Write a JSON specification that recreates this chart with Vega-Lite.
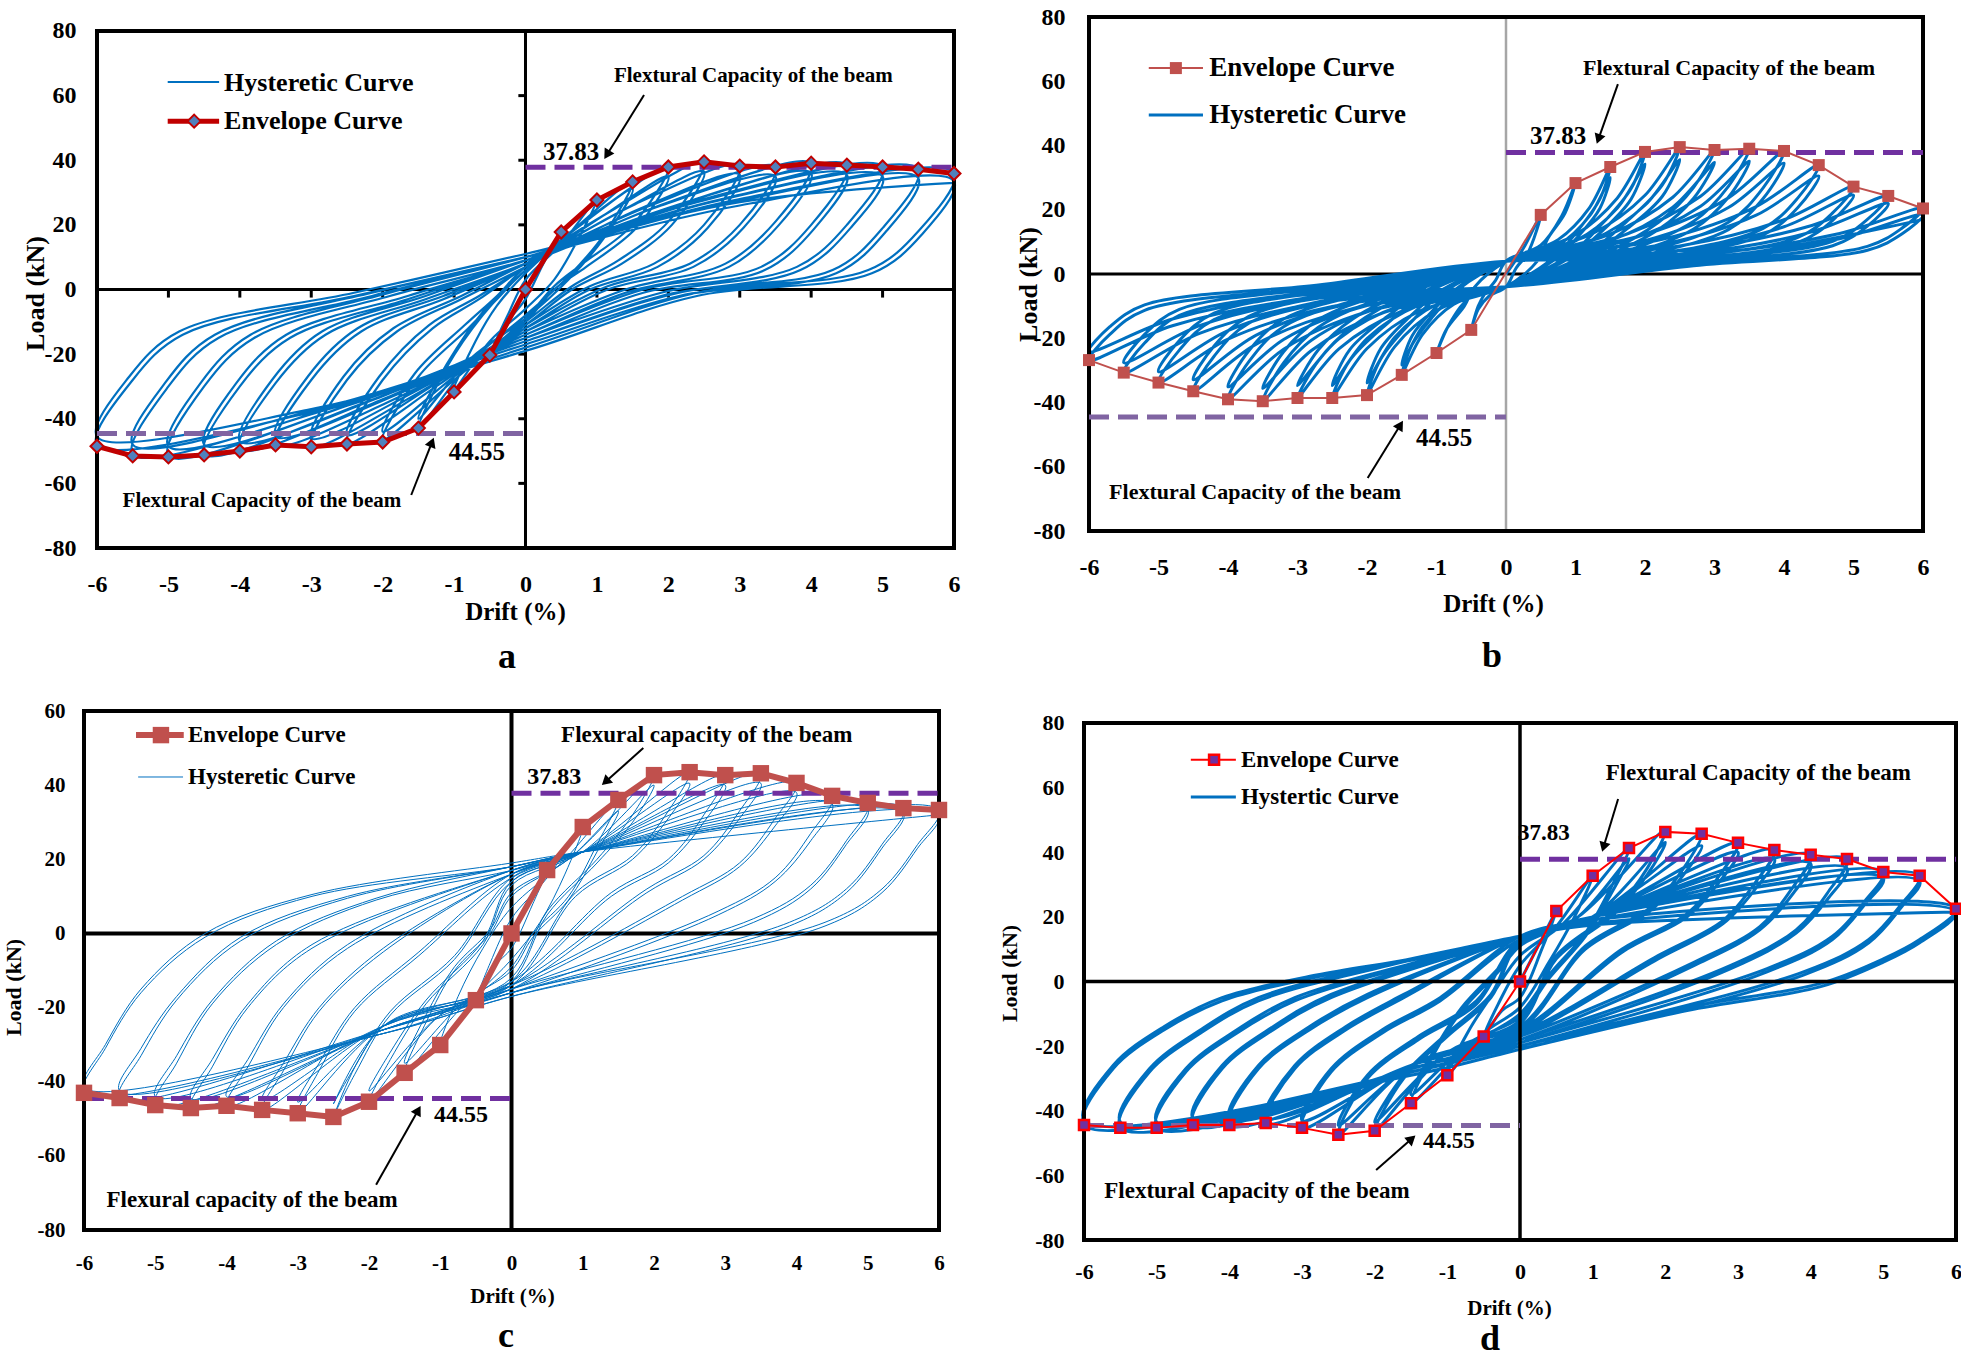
{
"$schema":"https://vega.github.io/schema/vega-lite/v6.json",
"background":"white",
"padding":{"left":2,"top":5,"right":0,"bottom":0},
"config":{
 "locale":{"number":{"decimal":".","thousands":",","grouping":[3],"currency":["$",""],"minus":"-"}},
 "view":{"stroke":null},
 "axis":{"domain":false,"ticks":false,"tickSize":0,"grid":false,"labelFont":"Liberation Serif","labelFontWeight":"bold","labelColor":"#000","titleFont":"Liberation Serif","titleFontWeight":"bold","titleColor":"#000","labelFlush":false,"labelOverlap":false,"titleBaseline":"middle"},
 "text":{"font":"Liberation Serif","fontWeight":"bold","color":"#000","baseline":"middle"},
 "title":{"font":"Liberation Serif","fontWeight":"bold","color":"#000","fontSize":36,"orient":"bottom","anchor":"middle","frame":"group"}
},
"columns":2,
"spacing":{"row":163,"column":130},
"bounds":"flush",
"datasets":{
 "f8":[{"x":-6,"x2":6,"y":80,"y2":80},{"x":-6,"x2":6,"y":-80,"y2":-80},{"x":-6,"x2":-6,"y":-80,"y2":80},{"x":6,"x2":6,"y":-80,"y2":80}],
 "f6":[{"x":-6,"x2":6,"y":60,"y2":60},{"x":-6,"x2":6,"y":-80,"y2":-80},{"x":-6,"x2":-6,"y":-80,"y2":60},{"x":6,"x2":6,"y":-80,"y2":60}],
 "z8":[{"x":-6,"x2":6,"y":0,"y2":0},{"x":0,"x2":0,"y":-80,"y2":80}],
 "z6":[{"x":-6,"x2":6,"y":0,"y2":0},{"x":0,"x2":0,"y":-80,"y2":60}],
 "zh":[{"x":-6,"x2":6,"y":0,"y2":0}],
 "zv8":[{"x":0,"x2":0,"y":-80,"y2":80}],
 "capT":[{"x":0,"x2":6,"y":37.83,"y2":37.83}],
 "capB":[{"x":-6,"x2":0,"y":-44.55,"y2":-44.55}],
 "ta":[{"x":-0.1,"x2":0,"y":60,"y2":60},{"x":-0.1,"x2":0,"y":40,"y2":40},{"x":-0.1,"x2":0,"y":20,"y2":20},{"x":-0.1,"x2":0,"y":-20,"y2":-20},{"x":-0.1,"x2":0,"y":-40,"y2":-40},{"x":-0.1,"x2":0,"y":-60,"y2":-60},
  {"x":-5,"x2":-5,"y":0,"y2":-2.5},{"x":-4,"x2":-4,"y":0,"y2":-2.5},{"x":-3,"x2":-3,"y":0,"y2":-2.5},{"x":-2,"x2":-2,"y":0,"y2":-2.5},{"x":-1,"x2":-1,"y":0,"y2":-2.5},{"x":1,"x2":1,"y":0,"y2":-2.5},{"x":2,"x2":2,"y":0,"y2":-2.5},{"x":3,"x2":3,"y":0,"y2":-2.5},{"x":4,"x2":4,"y":0,"y2":-2.5},{"x":5,"x2":5,"y":0,"y2":-2.5}],
 "ea":[{"x":-6,"y":-48.5},{"x":-5.5,"y":-51.5},{"x":-5,"y":-51.8},{"x":-4.5,"y":-51.2},{"x":-4,"y":-50},{"x":-3.5,"y":-48.1},{"x":-3,"y":-48.7},{"x":-2.5,"y":-47.8},{"x":-2,"y":-47.2},{"x":-1.5,"y":-42.9},{"x":-1,"y":-31.7},{"x":-0.5,"y":-20.3},{"x":0,"y":0},{"x":0.5,"y":17.8},{"x":1,"y":27.7},{"x":1.5,"y":33.3},{"x":2,"y":37.9},{"x":2.5,"y":39.5},{"x":3,"y":38.2},{"x":3.5,"y":37.9},{"x":4,"y":39.1},{"x":4.5,"y":38.5},{"x":5,"y":37.9},{"x":5.5,"y":37.2},{"x":6,"y":35.9}],
 "eb":[{"x":-6,"y":-26.8},{"x":-5.5,"y":-30.7},{"x":-5,"y":-33.8},{"x":-4.5,"y":-36.5},{"x":-4,"y":-39},{"x":-3.5,"y":-39.6},{"x":-3,"y":-38.6},{"x":-2.5,"y":-38.6},{"x":-2,"y":-37.7},{"x":-1.5,"y":-31.4},{"x":-1,"y":-24.6},{"x":-0.5,"y":-17.4},{"x":0.5,"y":18.4},{"x":1,"y":28.3},{"x":1.5,"y":33.3},{"x":2,"y":38},{"x":2.5,"y":39.5},{"x":3,"y":38.6},{"x":3.5,"y":39},{"x":4,"y":38.3},{"x":4.5,"y":33.9},{"x":5,"y":27.2},{"x":5.5,"y":24.3},{"x":6,"y":20.4}],
 "ec":[{"x":-6,"y":-43},{"x":-5.5,"y":-44.4},{"x":-5,"y":-46.3},{"x":-4.5,"y":-47.1},{"x":-4,"y":-46.5},{"x":-3.5,"y":-47.6},{"x":-3,"y":-48.5},{"x":-2.5,"y":-49.5},{"x":-2,"y":-45.4},{"x":-1.5,"y":-37.6},{"x":-1,"y":-30.1},{"x":-0.5,"y":-18},{"x":0,"y":0},{"x":0.5,"y":17.1},{"x":1,"y":28.7},{"x":1.5,"y":36},{"x":2,"y":42.7},{"x":2.5,"y":43.5},{"x":3,"y":42.7},{"x":3.5,"y":43.2},{"x":4,"y":40.6},{"x":4.5,"y":37.1},{"x":5,"y":35.2},{"x":5.5,"y":33.8},{"x":6,"y":33.3}],
 "ed":[{"x":-6,"y":-44.4},{"x":-5.5,"y":-45.3},{"x":-5,"y":-45.3},{"x":-4.5,"y":-44.4},{"x":-4,"y":-44.4},{"x":-3.5,"y":-43.8},{"x":-3,"y":-45.3},{"x":-2.5,"y":-47.4},{"x":-2,"y":-46.2},{"x":-1.5,"y":-37.7},{"x":-1,"y":-29},{"x":-0.5,"y":-17},{"x":0,"y":0},{"x":0.5,"y":21.8},{"x":1,"y":32.7},{"x":1.5,"y":41.3},{"x":2,"y":46.3},{"x":2.5,"y":45.7},{"x":3,"y":42.9},{"x":3.5,"y":40.7},{"x":4,"y":39.2},{"x":4.5,"y":37.9},{"x":5,"y":33.9},{"x":5.5,"y":32.7},{"x":6,"y":22.5}],
 "ha":[{"x":0,"y":0},{"x":0.25,"y":9},{"x":0.5,"y":18},{"x":0.25,"y":8},{"x":0,"y":-3},{"x":-0.25,"y":-10},{"x":-0.5,"y":-20},{"x":-0.25,"y":-8},{"x":0,"y":3},{"x":0.5,"y":14},
  {"x":1,"y":28},{"x":0.7,"y":14},{"x":0.4,"y":3},{"x":0,"y":-6},{"x":-0.5,"y":-16},{"x":-1,"y":-31},{"x":-0.7,"y":-16},{"x":-0.4,"y":-5},{"x":0,"y":5},{"x":0.75,"y":20},
  {"x":1.5,"y":33.5},{"x":1.1,"y":17},{"x":0.6,"y":4},{"x":0,"y":-8},{"x":-0.75,"y":-22},{"x":-1.5,"y":-43},{"x":-1.1,"y":-24},{"x":-0.6,"y":-8},{"x":0,"y":6},{"x":0.9,"y":22},
  {"x":1.5,"y":31},{"x":1.1,"y":16},{"x":0.6,"y":3},{"x":0,"y":-9},{"x":-0.75,"y":-21},{"x":-1.5,"y":-40},{"x":-1.1,"y":-23},{"x":-0.6,"y":-7},{"x":0,"y":6},{"x":1,"y":24},
  {"x":2,"y":38},{"x":1.5,"y":20},{"x":0.8,"y":8},{"x":0.4,"y":1},{"x":0,"y":-9},{"x":-1,"y":-28},{"x":-2,"y":-46.5},{"x":-1.5,"y":-27},{"x":-0.8,"y":-12},{"x":-0.4,"y":-3},{"x":0,"y":6},{"x":1.1,"y":23},
  {"x":2,"y":35},{"x":1.55,"y":19},{"x":0.85,"y":7},{"x":0.4,"y":0},{"x":0,"y":-10},{"x":-1,"y":-27},{"x":-2,"y":-44},{"x":-1.55,"y":-26},{"x":-0.85,"y":-11},{"x":-0.4,"y":-2},{"x":0,"y":7},{"x":1.25,"y":25},
  {"x":2.5,"y":39.5},{"x":2,"y":21},{"x":1.3,"y":9},{"x":0.65,"y":1},{"x":0,"y":-10},{"x":-1.25,"y":-30},{"x":-2.5,"y":-47.5},{"x":-2,"y":-28},{"x":-1.3,"y":-12},{"x":-0.65,"y":-3},{"x":0,"y":7},{"x":1.4,"y":25},
  {"x":2.5,"y":36.5},{"x":2.05,"y":20},{"x":1.35,"y":8},{"x":0.65,"y":0},{"x":0,"y":-11},{"x":-1.25,"y":-29},{"x":-2.5,"y":-45},{"x":-2.05,"y":-27},{"x":-1.35,"y":-11},{"x":-0.65,"y":-2},{"x":0,"y":7},{"x":1.5,"y":26},
  {"x":3,"y":38.5},{"x":2.5,"y":20},{"x":1.8,"y":8},{"x":0.9,"y":1},{"x":0,"y":-11},{"x":-1.5,"y":-32},{"x":-3,"y":-48.5},{"x":-2.5,"y":-28},{"x":-1.8,"y":-13},{"x":-0.9,"y":-3},{"x":0,"y":7},{"x":1.6,"y":25},
  {"x":3,"y":35.5},{"x":2.55,"y":19},{"x":1.85,"y":7},{"x":0.9,"y":0},{"x":0,"y":-12},{"x":-1.5,"y":-31},{"x":-3,"y":-46},{"x":-2.55,"y":-27},{"x":-1.85,"y":-12},{"x":-0.9,"y":-2},{"x":0,"y":8},{"x":1.75,"y":26},
  {"x":3.5,"y":38},{"x":3,"y":20},{"x":2.3,"y":8},{"x":1.15,"y":1},{"x":0,"y":-12},{"x":-1.75,"y":-33},{"x":-3.5,"y":-48},{"x":-3,"y":-28},{"x":-2.3,"y":-13},{"x":-1.15,"y":-3},{"x":0,"y":8},{"x":1.9,"y":26},
  {"x":3.5,"y":35},{"x":3.05,"y":19},{"x":2.35,"y":7},{"x":1.15,"y":0},{"x":0,"y":-13},{"x":-1.75,"y":-32},{"x":-3.5,"y":-45.5},{"x":-3.05,"y":-27},{"x":-2.35,"y":-12},{"x":-1.15,"y":-2},{"x":0,"y":8},{"x":2,"y":27},
  {"x":4,"y":39},{"x":3.5,"y":21},{"x":2.8,"y":8},{"x":1.4,"y":0},{"x":0,"y":-13},{"x":-2,"y":-34},{"x":-4,"y":-49.5},{"x":-3.5,"y":-29},{"x":-2.8,"y":-14},{"x":-1.4,"y":-3},{"x":0,"y":8},{"x":2.1,"y":26},
  {"x":4,"y":36},{"x":3.55,"y":20},{"x":2.85,"y":7},{"x":1.4,"y":-1},{"x":0,"y":-14},{"x":-2,"y":-33},{"x":-4,"y":-47},{"x":-3.55,"y":-28},{"x":-2.85,"y":-13},{"x":-1.4,"y":-2},{"x":0,"y":9},{"x":2.25,"y":27},
  {"x":4.5,"y":38.5},{"x":4,"y":20},{"x":3.3,"y":7},{"x":1.65,"y":0},{"x":0,"y":-14},{"x":-2.25,"y":-35},{"x":-4.5,"y":-51},{"x":-4,"y":-30},{"x":-3.3,"y":-15},{"x":-1.65,"y":-3},{"x":0,"y":9},{"x":2.4,"y":27},
  {"x":4.5,"y":35.5},{"x":4.05,"y":19},{"x":3.35,"y":6},{"x":1.65,"y":-1},{"x":0,"y":-15},{"x":-2.25,"y":-34},{"x":-4.5,"y":-48},{"x":-4.05,"y":-29},{"x":-3.35,"y":-14},{"x":-1.65,"y":-2},{"x":0,"y":9},{"x":2.5,"y":28},
  {"x":5,"y":38},{"x":4.5,"y":20},{"x":3.8,"y":7},{"x":1.9,"y":-1},{"x":0,"y":-15},{"x":-2.5,"y":-36},{"x":-5,"y":-51.5},{"x":-4.5,"y":-30},{"x":-3.8,"y":-15},{"x":-1.9,"y":-2},{"x":0,"y":9},{"x":2.6,"y":27},
  {"x":5,"y":35},{"x":4.55,"y":19},{"x":3.85,"y":6},{"x":1.9,"y":-2},{"x":0,"y":-16},{"x":-2.5,"y":-35},{"x":-5,"y":-48.5},{"x":-4.55,"y":-29},{"x":-3.85,"y":-14},{"x":-1.9,"y":-1},{"x":0,"y":10},{"x":2.75,"y":28},
  {"x":5.5,"y":37.2},{"x":5,"y":19},{"x":4.3,"y":6},{"x":2.15,"y":-1},{"x":0,"y":-16},{"x":-2.75,"y":-37},{"x":-5.5,"y":-51},{"x":-5,"y":-30},{"x":-4.3,"y":-15},{"x":-2.15,"y":-2},{"x":0,"y":10},{"x":2.9,"y":27},
  {"x":5.5,"y":34.5},{"x":5.05,"y":18},{"x":4.35,"y":5},{"x":2.15,"y":-2},{"x":0,"y":-17},{"x":-2.75,"y":-36},{"x":-5.5,"y":-48},{"x":-5.05,"y":-29},{"x":-4.35,"y":-14},{"x":-2.15,"y":-1},{"x":0,"y":10},{"x":3,"y":28},
  {"x":6,"y":36},{"x":5.5,"y":18},{"x":4.8,"y":6},{"x":2.4,"y":-1},{"x":0,"y":-18},{"x":-3,"y":-38},{"x":-6,"y":-48},{"x":-5.5,"y":-28},{"x":-4.8,"y":-14},{"x":-2.4,"y":-2},{"x":0,"y":10},{"x":3,"y":26},
  {"x":6,"y":33.5},{"x":5.55,"y":17},{"x":4.85,"y":5},{"x":2.4,"y":-2},{"x":0,"y":-19},{"x":-3,"y":-37},{"x":-6,"y":-45.5},{"x":-5.55,"y":-27},{"x":-4.85,"y":-13},{"x":-2.4,"y":-1},{"x":0,"y":11},{"x":3,"y":27},{"x":6,"y":33}],
 "hb":[{"x":0,"y":0},{"x":0.25,"y":8},{"x":0.5,"y":18.4},{"x":0.4,"y":11},{"x":0.3,"y":6},{"x":0.15,"y":2},{"x":0,"y":-4},{"x":-0.25,"y":-7},{"x":-0.4,"y":-11},{"x":-0.5,"y":-17.4},{"x":-0.4,"y":-10},{"x":-0.3,"y":-6},{"x":-0.15,"y":-2},{"x":0,"y":4},
  {"x":0.5,"y":9},{"x":0.8,"y":18},{"x":1,"y":28.3},{"x":0.85,"y":19},{"x":0.6,"y":11},{"x":0.45,"y":4},{"x":0,"y":-4},{"x":-0.5,"y":-7},{"x":-0.8,"y":-15},{"x":-1,"y":-24.6},{"x":-0.85,"y":-17},{"x":-0.6,"y":-10},{"x":-0.45,"y":-4},{"x":0,"y":4},
  {"x":0.75,"y":10.7},{"x":1.2,"y":20.6},{"x":1.5,"y":33.3},{"x":1.35,"y":23.3},{"x":1.05,"y":14},{"x":0.68,"y":5},{"x":0,"y":-4},{"x":-0.75,"y":-9.4},{"x":-1.2,"y":-18.8},{"x":-1.5,"y":-31.4},{"x":-1.35,"y":-22},{"x":-1.05,"y":-13.2},{"x":-0.68,"y":-4.7},{"x":0,"y":4},
  {"x":0.75,"y":9},{"x":1.2,"y":18},{"x":1.5,"y":30},{"x":1.35,"y":20.4},{"x":1.05,"y":12},{"x":0.68,"y":4.2},{"x":0,"y":-4},{"x":-0.75,"y":-7.9},{"x":-1.2,"y":-16.4},{"x":-1.5,"y":-28.3},{"x":-1.35,"y":-19.2},{"x":-1.05,"y":-11.3},{"x":-0.68,"y":-4},{"x":0,"y":4},
  {"x":1,"y":12.2},{"x":1.6,"y":23.6},{"x":2,"y":38},{"x":1.8,"y":26.6},{"x":1.4,"y":16},{"x":0.9,"y":5.7},{"x":0,"y":-4},{"x":-1,"y":-11.3},{"x":-1.6,"y":-22.6},{"x":-2,"y":-37.7},{"x":-1.8,"y":-26.4},{"x":-1.4,"y":-15.8},{"x":-0.9,"y":-5.7},{"x":0,"y":4},
  {"x":1,"y":10.3},{"x":1.6,"y":20.5},{"x":2,"y":34.2},{"x":1.8,"y":23.3},{"x":1.4,"y":13.7},{"x":0.9,"y":4.8},{"x":0,"y":-4},{"x":-1,"y":-9.5},{"x":-1.6,"y":-19.7},{"x":-2,"y":-33.9},{"x":-1.8,"y":-23.1},{"x":-1.4,"y":-13.6},{"x":-0.9,"y":-4.7},{"x":0,"y":4},
  {"x":1.25,"y":12.6},{"x":2,"y":24.5},{"x":2.5,"y":39.5},{"x":2.25,"y":27.7},{"x":1.75,"y":16.6},{"x":1.13,"y":5.9},{"x":0,"y":-4},{"x":-1.25,"y":-11.6},{"x":-2,"y":-23.2},{"x":-2.5,"y":-38.6},{"x":-2.25,"y":-27},{"x":-1.75,"y":-16.2},{"x":-1.13,"y":-5.8},{"x":0,"y":4},
  {"x":1.25,"y":10.7},{"x":2,"y":21.4},{"x":2.5,"y":35.6},{"x":2.25,"y":24.2},{"x":1.75,"y":14.2},{"x":1.13,"y":5},{"x":0,"y":-4},{"x":-1.25,"y":-9.7},{"x":-2,"y":-20.1},{"x":-2.5,"y":-34.7},{"x":-2.25,"y":-23.6},{"x":-1.75,"y":-13.9},{"x":-1.13,"y":-4.9},{"x":0,"y":4},
  {"x":1.5,"y":12.4},{"x":2.4,"y":23.9},{"x":3,"y":38.6},{"x":2.7,"y":27},{"x":2.2,"y":16.2},{"x":1.35,"y":5.8},{"x":0,"y":-4},{"x":-1.5,"y":-11.6},{"x":-2.4,"y":-23.2},{"x":-3,"y":-38.6},{"x":-2.7,"y":-27},{"x":-2.2,"y":-16.2},{"x":-1.35,"y":-5.8},{"x":0,"y":4},
  {"x":1.5,"y":10.4},{"x":2.4,"y":20.8},{"x":3,"y":34.7},{"x":2.7,"y":23.6},{"x":2.2,"y":13.9},{"x":1.35,"y":4.9},{"x":0,"y":-4},{"x":-1.5,"y":-9.7},{"x":-2.4,"y":-20.1},{"x":-3,"y":-34.7},{"x":-2.7,"y":-23.6},{"x":-2.2,"y":-13.9},{"x":-1.35,"y":-4.9},{"x":0,"y":4},
  {"x":1.75,"y":12.5},{"x":2.8,"y":24.2},{"x":3.5,"y":39},{"x":3.2,"y":27.3},{"x":2.7,"y":16.4},{"x":1.58,"y":5.9},{"x":0,"y":-4},{"x":-1.75,"y":-11.9},{"x":-2.8,"y":-23.8},{"x":-3.5,"y":-39.6},{"x":-3.2,"y":-27.7},{"x":-2.7,"y":-16.6},{"x":-1.58,"y":-5.9},{"x":0,"y":4},
  {"x":1.75,"y":10.5},{"x":2.8,"y":21.1},{"x":3.5,"y":35.1},{"x":3.2,"y":23.9},{"x":2.7,"y":14},{"x":1.58,"y":4.9},{"x":0,"y":-4},{"x":-1.75,"y":-10},{"x":-2.8,"y":-20.6},{"x":-3.5,"y":-35.6},{"x":-3.2,"y":-24.2},{"x":-2.7,"y":-14.2},{"x":-1.58,"y":-5},{"x":0,"y":4},
  {"x":2,"y":12.3},{"x":3.2,"y":23.7},{"x":4,"y":38.3},{"x":3.7,"y":26.8},{"x":3.2,"y":16.1},{"x":1.8,"y":5.7},{"x":0,"y":-4},{"x":-2,"y":-11.7},{"x":-3.2,"y":-23.4},{"x":-4,"y":-39},{"x":-3.7,"y":-27.3},{"x":-3.2,"y":-16.4},{"x":-1.8,"y":-5.9},{"x":0,"y":4},
  {"x":2,"y":10.4},{"x":3.2,"y":20.7},{"x":4,"y":34.5},{"x":3.7,"y":23.5},{"x":3.2,"y":13.8},{"x":1.8,"y":4.8},{"x":0,"y":-4},{"x":-2,"y":-9.8},{"x":-3.2,"y":-20.4},{"x":-4,"y":-35.1},{"x":-3.7,"y":-23.9},{"x":-3.2,"y":-14},{"x":-1.8,"y":-4.9},{"x":0,"y":4},
  {"x":2.25,"y":10.8},{"x":3.6,"y":21},{"x":4.5,"y":33.9},{"x":4.2,"y":23.7},{"x":3.7,"y":14.2},{"x":2.03,"y":5.1},{"x":0,"y":-4},{"x":-2.25,"y":-11},{"x":-3.6,"y":-21.9},{"x":-4.5,"y":-36.5},{"x":-4.2,"y":-25.6},{"x":-3.7,"y":-15.3},{"x":-2.03,"y":-5.5},{"x":0,"y":4},
  {"x":2.25,"y":9.2},{"x":3.6,"y":18.3},{"x":4.5,"y":30.5},{"x":4.2,"y":20.7},{"x":3.7,"y":12.2},{"x":2.03,"y":4.3},{"x":0,"y":-4},{"x":-2.25,"y":-9.2},{"x":-3.6,"y":-19.1},{"x":-4.5,"y":-32.9},{"x":-4.2,"y":-22.4},{"x":-3.7,"y":-13.2},{"x":-2.03,"y":-4.6},{"x":0,"y":4},
  {"x":2.5,"y":8.7},{"x":4,"y":16.9},{"x":5,"y":27.2},{"x":4.7,"y":19},{"x":4.2,"y":11.4},{"x":2.25,"y":4.1},{"x":0,"y":-4},{"x":-2.5,"y":-10.1},{"x":-4,"y":-20.3},{"x":-5,"y":-33.8},{"x":-4.7,"y":-23.7},{"x":-4.2,"y":-14.2},{"x":-2.25,"y":-5.1},{"x":0,"y":4},
  {"x":2.5,"y":7.4},{"x":4,"y":14.7},{"x":5,"y":24.5},{"x":4.7,"y":16.7},{"x":4.2,"y":9.8},{"x":2.25,"y":3.4},{"x":0,"y":-4},{"x":-2.5,"y":-8.5},{"x":-4,"y":-17.6},{"x":-5,"y":-30.4},{"x":-4.7,"y":-20.7},{"x":-4.2,"y":-12.2},{"x":-2.25,"y":-4.3},{"x":0,"y":4},
  {"x":2.75,"y":7.8},{"x":4.4,"y":15.1},{"x":5.5,"y":24.3},{"x":5.2,"y":17},{"x":4.7,"y":10.2},{"x":2.48,"y":3.6},{"x":0,"y":-4},{"x":-2.75,"y":-9.2},{"x":-4.4,"y":-18.4},{"x":-5.5,"y":-30.7},{"x":-5.2,"y":-21.5},{"x":-4.7,"y":-12.9},{"x":-2.48,"y":-4.6},{"x":0,"y":4},
  {"x":2.75,"y":6.6},{"x":4.4,"y":13.1},{"x":5.5,"y":21.9},{"x":5.2,"y":14.9},{"x":4.7,"y":8.8},{"x":2.48,"y":3.1},{"x":0,"y":-4},{"x":-2.75,"y":-7.7},{"x":-4.4,"y":-16},{"x":-5.5,"y":-27.6},{"x":-5.2,"y":-18.8},{"x":-4.7,"y":-11},{"x":-2.48,"y":-3.9},{"x":0,"y":4},
  {"x":3,"y":6.5},{"x":4.8,"y":12.6},{"x":6,"y":20.4},{"x":5.7,"y":14.3},{"x":5.2,"y":8.6},{"x":2.7,"y":3.1},{"x":0,"y":-4},{"x":-3,"y":-8},{"x":-4.8,"y":-16.1},{"x":-6,"y":-26.8},{"x":-5.7,"y":-18.8},{"x":-5.2,"y":-11.3},{"x":-2.7,"y":-4},{"x":0,"y":4},
  {"x":3,"y":5.5},{"x":4.8,"y":11},{"x":6,"y":18.4},{"x":5.7,"y":12.5},{"x":5.2,"y":7.4},{"x":2.7,"y":2.6},{"x":0,"y":-4},{"x":-3,"y":-6.7},{"x":-4.8,"y":-14},{"x":-6,"y":-24.1},{"x":-5.7,"y":-16.4},{"x":-5.2,"y":-9.6},{"x":-2.7,"y":-3.4},{"x":0,"y":4},{"x":3,"y":5},{"x":6,"y":17}],
 "hc":[{"x":0,"y":0},{"x":0.25,"y":9},{"x":0.5,"y":17.1},{"x":0.3,"y":8},{"x":0,"y":-4},{"x":-0.25,"y":-9},{"x":-0.5,"y":-18},{"x":-0.3,"y":-8},{"x":0,"y":4},{"x":0.5,"y":15},
  {"x":1,"y":28.7},{"x":0.75,"y":16},{"x":0.4,"y":3},{"x":0,"y":-7},{"x":-0.5,"y":-17},{"x":-1,"y":-30.1},{"x":-0.75,"y":-17},{"x":-0.4,"y":-4},{"x":0,"y":7},{"x":0.7,"y":19},
  {"x":1.5,"y":36},{"x":1.2,"y":24},{"x":0.8,"y":10},{"x":0.3,"y":0},{"x":0,"y":-9},{"x":-0.7,"y":-20},{"x":-1.5,"y":-37.6},{"x":-1.2,"y":-24},{"x":-0.8,"y":-10},{"x":-0.3,"y":0},{"x":0,"y":10},{"x":0.8,"y":20},
  {"x":1.5,"y":33},{"x":1.2,"y":22},{"x":0.8,"y":9},{"x":0.3,"y":-1},{"x":0,"y":-10},{"x":-0.7,"y":-19},{"x":-1.5,"y":-35},{"x":-1.2,"y":-22},{"x":-0.8,"y":-9},{"x":-0.3,"y":1},{"x":0,"y":11},{"x":0.8,"y":20},
  {"x":2,"y":42.7},{"x":1.7,"y":32},{"x":1.2,"y":20},{"x":0.5,"y":6},{"x":0,"y":-12},{"x":-1,"y":-22},{"x":-2,"y":-45.4},{"x":-1.7,"y":-34},{"x":-1.2,"y":-19},{"x":-0.4,"y":-3},{"x":0,"y":13},{"x":1,"y":22},
  {"x":2,"y":40},{"x":1.7,"y":30},{"x":1.2,"y":19},{"x":0.5,"y":5},{"x":0,"y":-13},{"x":-1,"y":-22},{"x":-2,"y":-42.5},{"x":-1.7,"y":-32},{"x":-1.2,"y":-18},{"x":-0.4,"y":-2},{"x":0,"y":14},{"x":1,"y":22},
  {"x":2.5,"y":43.5},{"x":2.2,"y":33},{"x":1.7,"y":21},{"x":0.9,"y":11},{"x":0,"y":-13},{"x":-1.8,"y":-25},{"x":-2.5,"y":-49.5},{"x":-2.2,"y":-38},{"x":-1.7,"y":-22},{"x":-0.8,"y":-7},{"x":0,"y":14},{"x":1,"y":22},
  {"x":2.5,"y":40.5},{"x":2.2,"y":31},{"x":1.7,"y":20},{"x":0.9,"y":10},{"x":0,"y":-14},{"x":-1.8,"y":-25},{"x":-2.5,"y":-46},{"x":-2.2,"y":-36},{"x":-1.7,"y":-21},{"x":-0.8,"y":-6},{"x":0,"y":15},{"x":1,"y":22},
  {"x":3,"y":42.7},{"x":2.7,"y":32},{"x":2.2,"y":20},{"x":1.4,"y":11},{"x":0,"y":-13},{"x":-1.8,"y":-25},{"x":-3,"y":-48.5},{"x":-2.7,"y":-37},{"x":-2.2,"y":-21},{"x":-1.3,"y":-6},{"x":0,"y":15},{"x":1,"y":22},
  {"x":3,"y":40},{"x":2.7,"y":30},{"x":2.2,"y":19},{"x":1.4,"y":10},{"x":0,"y":-14},{"x":-1.8,"y":-25},{"x":-3,"y":-45.5},{"x":-2.7,"y":-35},{"x":-2.2,"y":-20},{"x":-1.3,"y":-5},{"x":0,"y":16},{"x":1,"y":22},
  {"x":3.5,"y":43.2},{"x":3.2,"y":33},{"x":2.7,"y":21},{"x":1.9,"y":12},{"x":0,"y":-14},{"x":-1.8,"y":-25},{"x":-3.5,"y":-47.6},{"x":-3.2,"y":-37},{"x":-2.7,"y":-21},{"x":-1.8,"y":-5},{"x":0,"y":16},{"x":1,"y":22},
  {"x":3.5,"y":40.5},{"x":3.2,"y":31},{"x":2.7,"y":20},{"x":1.9,"y":11},{"x":0,"y":-15},{"x":-1.8,"y":-25},{"x":-3.5,"y":-45},{"x":-3.2,"y":-35},{"x":-2.7,"y":-20},{"x":-1.8,"y":-4},{"x":0,"y":16},{"x":1,"y":22},
  {"x":4,"y":40.6},{"x":3.7,"y":31},{"x":3.2,"y":19},{"x":2.4,"y":10},{"x":0,"y":-14},{"x":-1.8,"y":-25},{"x":-4,"y":-46.5},{"x":-3.7,"y":-36},{"x":-3.2,"y":-20},{"x":-2.3,"y":-4},{"x":0,"y":16},{"x":1,"y":22},
  {"x":4,"y":38},{"x":3.7,"y":29},{"x":3.2,"y":18},{"x":2.4,"y":9},{"x":0,"y":-15},{"x":-1.8,"y":-26},{"x":-4,"y":-44},{"x":-3.7,"y":-34},{"x":-3.2,"y":-19},{"x":-2.3,"y":-3},{"x":0,"y":17},{"x":1,"y":22},
  {"x":4.5,"y":37.1},{"x":4.2,"y":27},{"x":3.7,"y":15},{"x":2.9,"y":6},{"x":0,"y":-15},{"x":-1.8,"y":-26},{"x":-4.5,"y":-47.1},{"x":-4.2,"y":-36},{"x":-3.7,"y":-20},{"x":-2.8,"y":-4},{"x":0,"y":17},{"x":1,"y":22},
  {"x":4.5,"y":35},{"x":4.2,"y":25},{"x":3.7,"y":14},{"x":2.9,"y":5},{"x":0,"y":-16},{"x":-1.8,"y":-26},{"x":-4.5,"y":-44.5},{"x":-4.2,"y":-34},{"x":-3.7,"y":-19},{"x":-2.8,"y":-3},{"x":0,"y":17},{"x":1,"y":22},
  {"x":5,"y":35.2},{"x":4.7,"y":25},{"x":4.2,"y":13},{"x":3.4,"y":4},{"x":0,"y":-15},{"x":-1.8,"y":-26},{"x":-5,"y":-46.3},{"x":-4.7,"y":-35},{"x":-4.2,"y":-19},{"x":-3.3,"y":-3},{"x":-1.9,"y":9},{"x":0,"y":17},{"x":1,"y":22},
  {"x":5,"y":33.5},{"x":4.7,"y":24},{"x":4.2,"y":12},{"x":3.4,"y":3},{"x":0,"y":-16},{"x":-1.8,"y":-26},{"x":-5,"y":-44},{"x":-4.7,"y":-33},{"x":-4.2,"y":-18},{"x":-3.3,"y":-2},{"x":-1.9,"y":9.5},{"x":0,"y":18},{"x":1,"y":22},
  {"x":5.5,"y":33.8},{"x":5.2,"y":24},{"x":4.7,"y":12},{"x":3.9,"y":3},{"x":0,"y":-16},{"x":-1.8,"y":-26},{"x":-5.5,"y":-44.4},{"x":-5.2,"y":-33},{"x":-4.7,"y":-18},{"x":-3.8,"y":-2},{"x":-2.3,"y":9.5},{"x":0,"y":18},{"x":1,"y":22},
  {"x":5.5,"y":32.5},{"x":5.2,"y":23},{"x":4.7,"y":11},{"x":3.9,"y":2},{"x":0,"y":-17},{"x":-1.8,"y":-27},{"x":-5.5,"y":-42.5},{"x":-5.2,"y":-31},{"x":-4.7,"y":-17},{"x":-3.8,"y":-1},{"x":-2.3,"y":10},{"x":0,"y":18},{"x":1,"y":22},
  {"x":6,"y":33.3},{"x":5.7,"y":24},{"x":5.2,"y":12},{"x":4.4,"y":3},{"x":0,"y":-16},{"x":-1.8,"y":-27},{"x":-6,"y":-43},{"x":-5.7,"y":-31},{"x":-5.2,"y":-16},{"x":-4.3,"y":-1},{"x":-2.8,"y":10},{"x":0,"y":18},{"x":1,"y":22},
  {"x":6,"y":32},{"x":5.7,"y":23},{"x":5.2,"y":11},{"x":4.4,"y":2},{"x":0,"y":-17},{"x":-1.8,"y":-27},{"x":-6,"y":-41.5},{"x":-5.7,"y":-30},{"x":-5.2,"y":-15},{"x":-4.3,"y":0},{"x":-2.8,"y":10.5},{"x":0,"y":19},{"x":1,"y":22},{"x":6,"y":32}],
 "hd":[{"x":0,"y":0},{"x":0.25,"y":11},{"x":0.5,"y":21.8},{"x":0.3,"y":10},{"x":0,"y":-5},{"x":-0.25,"y":-9},{"x":-0.5,"y":-17},{"x":-0.3,"y":-7},{"x":0,"y":5},{"x":0.5,"y":17},
  {"x":1,"y":32.7},{"x":0.75,"y":20},{"x":0.4,"y":6},{"x":0,"y":-8},{"x":-0.5,"y":-16},{"x":-1,"y":-29},{"x":-0.7,"y":-15},{"x":-0.35,"y":-3},{"x":0,"y":8},{"x":0.6,"y":18},
  {"x":1.5,"y":41.3},{"x":1.25,"y":29},{"x":0.9,"y":15},{"x":0.4,"y":2},{"x":0,"y":-10},{"x":-0.7,"y":-20},{"x":-1.5,"y":-37.7},{"x":-1.2,"y":-23},{"x":-0.8,"y":-9},{"x":-0.3,"y":3},{"x":0,"y":11},{"x":0.8,"y":20},
  {"x":1.5,"y":38},{"x":1.25,"y":27},{"x":0.9,"y":14},{"x":0.4,"y":1},{"x":0,"y":-11},{"x":-0.7,"y":-19},{"x":-1.5,"y":-35},{"x":-1.2,"y":-22},{"x":-0.8,"y":-8},{"x":-0.3,"y":4},{"x":0,"y":12},{"x":0.8,"y":20},
  {"x":2,"y":47},{"x":1.75,"y":35},{"x":1.3,"y":22},{"x":0.5,"y":8},{"x":0,"y":-12},{"x":-1,"y":-22},{"x":-2,"y":-46.2},{"x":-1.6,"y":-30},{"x":-1,"y":-17},{"x":-0.4,"y":-5},{"x":0,"y":12},{"x":1,"y":20},
  {"x":2,"y":43},{"x":1.75,"y":33},{"x":1.3,"y":21},{"x":0.5,"y":7},{"x":0,"y":-13},{"x":-1,"y":-22},{"x":-2,"y":-43.5},{"x":-1.6,"y":-29},{"x":-1,"y":-16},{"x":-0.4,"y":-4},{"x":0,"y":13},{"x":1,"y":20},
  {"x":2.5,"y":45.7},{"x":2.25,"y":35},{"x":1.8,"y":23},{"x":0.9,"y":11},{"x":0,"y":-14},{"x":-1.5,"y":-26},{"x":-2.5,"y":-47.4},{"x":-2.1,"y":-30},{"x":-1.4,"y":-18},{"x":-0.6,"y":-7},{"x":0,"y":13},{"x":1,"y":20},
  {"x":2.5,"y":42},{"x":2.25,"y":33},{"x":1.8,"y":22},{"x":0.9,"y":10},{"x":0,"y":-15},{"x":-1.5,"y":-26},{"x":-2.5,"y":-44.5},{"x":-2.1,"y":-29},{"x":-1.4,"y":-17},{"x":-0.6,"y":-6},{"x":0,"y":13},{"x":1,"y":20},
  {"x":3,"y":42.9},{"x":2.75,"y":33},{"x":2.3,"y":21},{"x":1.4,"y":10},{"x":0,"y":-15},{"x":-1.5,"y":-26},{"x":-3,"y":-45.3},{"x":-2.6,"y":-28},{"x":-1.9,"y":-16},{"x":-1.1,"y":-6},{"x":0,"y":13},{"x":1,"y":20},
  {"x":3,"y":40},{"x":2.75,"y":31},{"x":2.3,"y":20},{"x":1.4,"y":9},{"x":0,"y":-16},{"x":-1.5,"y":-26},{"x":-3,"y":-43},{"x":-2.6,"y":-27},{"x":-1.9,"y":-15},{"x":-1.1,"y":-5},{"x":0,"y":14},{"x":1,"y":20},
  {"x":3.5,"y":40.7},{"x":3.25,"y":31},{"x":2.8,"y":19},{"x":1.9,"y":8},{"x":0,"y":-16},{"x":-1.5,"y":-26},{"x":-3.5,"y":-43.8},{"x":-3.1,"y":-27},{"x":-2.4,"y":-15},{"x":-1.6,"y":-5},{"x":0,"y":14},{"x":1,"y":20},
  {"x":3.5,"y":38},{"x":3.25,"y":29},{"x":2.8,"y":18},{"x":1.9,"y":7},{"x":0,"y":-17},{"x":-1.5,"y":-27},{"x":-3.5,"y":-42},{"x":-3.1,"y":-26},{"x":-2.4,"y":-14},{"x":-1.6,"y":-4},{"x":0,"y":14},{"x":1,"y":20},
  {"x":4,"y":39.2},{"x":3.75,"y":29},{"x":3.3,"y":17},{"x":2.4,"y":6},{"x":0,"y":-17},{"x":-1.5,"y":-27},{"x":-4,"y":-44.4},{"x":-3.6,"y":-27},{"x":-2.9,"y":-15},{"x":-2.1,"y":-5},{"x":0,"y":14},{"x":1,"y":20},
  {"x":4,"y":36.5},{"x":3.75,"y":27},{"x":3.3,"y":16},{"x":2.4,"y":5},{"x":0,"y":-18},{"x":-1.5,"y":-27},{"x":-4,"y":-42.5},{"x":-3.6,"y":-26},{"x":-2.9,"y":-14},{"x":-2.1,"y":-4},{"x":0,"y":14},{"x":1,"y":20},
  {"x":4.5,"y":37.9},{"x":4.25,"y":28},{"x":3.8,"y":16},{"x":2.9,"y":5},{"x":0,"y":-18},{"x":-1.5,"y":-27},{"x":-4.5,"y":-44.4},{"x":-4.1,"y":-27},{"x":-3.4,"y":-15},{"x":-2.6,"y":-5},{"x":0,"y":14},{"x":1,"y":20},
  {"x":4.5,"y":35},{"x":4.25,"y":26},{"x":3.8,"y":15},{"x":2.9,"y":4},{"x":0,"y":-19},{"x":-1.5,"y":-28},{"x":-4.5,"y":-42.5},{"x":-4.1,"y":-26},{"x":-3.4,"y":-14},{"x":-2.6,"y":-4},{"x":0,"y":14},{"x":1,"y":20},
  {"x":5,"y":33.9},{"x":4.75,"y":25},{"x":4.3,"y":14},{"x":3.4,"y":4},{"x":0,"y":-19},{"x":-1.5,"y":-28},{"x":-5,"y":-45.3},{"x":-4.6,"y":-28},{"x":-3.9,"y":-16},{"x":-3.1,"y":-6},{"x":-1.5,"y":5},{"x":0,"y":14},{"x":1,"y":20},
  {"x":5,"y":32},{"x":4.75,"y":24},{"x":4.3,"y":13},{"x":3.4,"y":3},{"x":0,"y":-20},{"x":-1.5,"y":-28},{"x":-5,"y":-43.5},{"x":-4.6,"y":-27},{"x":-3.9,"y":-15},{"x":-3.1,"y":-5},{"x":-1.5,"y":5.5},{"x":0,"y":14},{"x":1,"y":20},
  {"x":5.5,"y":32.7},{"x":5.25,"y":24},{"x":4.8,"y":13},{"x":3.9,"y":3},{"x":0,"y":-20},{"x":-1.5,"y":-28},{"x":-5.5,"y":-45.3},{"x":-5.1,"y":-28},{"x":-4.4,"y":-16},{"x":-3.6,"y":-6},{"x":-1.8,"y":5},{"x":0,"y":14},{"x":1,"y":19},
  {"x":5.5,"y":31},{"x":5.25,"y":23},{"x":4.8,"y":12},{"x":3.9,"y":2},{"x":0,"y":-21},{"x":-1.5,"y":-29},{"x":-5.5,"y":-43.5},{"x":-5.1,"y":-27},{"x":-4.4,"y":-15},{"x":-3.6,"y":-5},{"x":-1.8,"y":5.5},{"x":0,"y":14},{"x":1,"y":19},
  {"x":6,"y":22.5},{"x":5.5,"y":13},{"x":5,"y":7},{"x":4.15,"y":-0.5},{"x":2.3,"y":-8},{"x":0,"y":-20},{"x":-1.5,"y":-28},{"x":-6,"y":-44.4},{"x":-5.6,"y":-27},{"x":-4.9,"y":-15},{"x":-4.1,"y":-6},{"x":-2.8,"y":1.4},{"x":-1.5,"y":6.6},{"x":0,"y":14},{"x":1,"y":18},
  {"x":6,"y":21.5},{"x":5.5,"y":12},{"x":5,"y":6},{"x":4.15,"y":-1.5},{"x":2.3,"y":-9},{"x":0,"y":-21},{"x":-1.5,"y":-29},{"x":-6,"y":-43},{"x":-5.6,"y":-26},{"x":-4.9,"y":-14},{"x":-4.1,"y":-5},{"x":-2.8,"y":2},{"x":-1.5,"y":7},{"x":0,"y":14},{"x":1,"y":17.5},{"x":6,"y":21.5}]
},
"concat":[
 {
  "width":870,"height":531,
  "title":{"text":"a","dx":-12,"offset":16},
  "encoding":{
   "x":{"field":"x","type":"quantitative","scale":{"domain":[-6.182,6],"nice":false,"zero":false},"axis":{"values":[-6,-5,-4,-3,-2,-1,0,1,2,3,4,5,6],"labelFontSize":24,"labelPadding":24,"title":"Drift (%)","titleFontSize":25,"titleX":431,"titleY":63}},
   "y":{"field":"y","type":"quantitative","scale":{"domain":[-80,84.33],"nice":false,"zero":false},"axis":{"values":[-80,-60,-40,-20,0,20,40,60,80],"labelFontSize":24,"labelPadding":8,"title":"Load (kN)","titleFontSize":26,"titleX":-49,"titleY":276}}
  },
  "layer":[
   {"data":{"name":"z8"},"mark":{"type":"rule","color":"#000","strokeWidth":3},"encoding":{"x2":{"field":"x2"},"y2":{"field":"y2"}}},
   {"data":{"name":"ta"},"mark":{"type":"rule","color":"#000","strokeWidth":3},"encoding":{"x2":{"field":"x2"},"y2":{"field":"y2"}}},
   {"data":{"name":"ha"},"mark":{"type":"line","color":"#0070C0","strokeWidth":2.2,"interpolate":"catmull-rom"},"encoding":{"order":{"value":null}}},
   {"data":{"name":"f8"},"mark":{"type":"rule","color":"#000","strokeWidth":4,"strokeCap":"square"},"encoding":{"x2":{"field":"x2"},"y2":{"field":"y2"}}},
   {"data":{"name":"capT"},"mark":{"type":"rule","color":"#7030A0","strokeWidth":5,"strokeDash":[20,9]},"encoding":{"x2":{"field":"x2"},"y2":{"field":"y2"}}},
   {"data":{"name":"capB"},"mark":{"type":"rule","color":"#8064A2","strokeWidth":5,"strokeDash":[20,9]},"encoding":{"x2":{"field":"x2"},"y2":{"field":"y2"}}},
   {"data":{"name":"ea"},"mark":{"type":"line","color":"#C00000","strokeWidth":5}},
   {"data":{"name":"ea"},"mark":{"type":"point","shape":"diamond","size":170,"filled":true,"fill":"#4F81BD","stroke":"#C00000","strokeWidth":2,"opacity":1}},
   {"data":{"values":[{"x":1.66,"y":60.2,"x2":1.14,"y2":41.7},{"x":-1.6,"y":-63.6,"x2":-1.31,"y2":-47.3}]},"mark":{"type":"rule","color":"#000","strokeWidth":2},"encoding":{"x2":{"field":"x2"},"y2":{"field":"y2"}}},
   {"data":{"values":[{"x":1.14,"y":41.7}]},"mark":{"type":"point","shape":"triangle-up","size":130,"filled":true,"color":"#000","opacity":1,"angle":212}},
   {"data":{"values":[{"x":-1.31,"y":-47.3}]},"mark":{"type":"point","shape":"triangle-up","size":130,"filled":true,"color":"#000","opacity":1,"angle":21.5}},
   {"data":{"values":[{"x":3.19,"y":66.1,"t":"Flextural Capacity of the beam"},{"x":-3.69,"y":-65.5,"t":"Flextural Capacity of the beam"}]},"mark":{"type":"text","fontSize":21},"encoding":{"text":{"field":"t"}}},
   {"data":{"values":[{"x":0.64,"y":42.6,"t":"37.83"},{"x":-0.68,"y":-50.3,"t":"44.55"}]},"mark":{"type":"text","fontSize":25},"encoding":{"text":{"field":"t"}}},
   {"data":{"values":[{"x":-5.01,"x2":-4.29,"y":64.2,"y2":64.2}]},"mark":{"type":"rule","color":"#0070C0","strokeWidth":2},"encoding":{"x2":{"field":"x2"},"y2":{"field":"y2"}}},
   {"data":{"values":[{"x":-5.01,"x2":-4.29,"y":52.1,"y2":52.1}]},"mark":{"type":"rule","color":"#C00000","strokeWidth":5},"encoding":{"x2":{"field":"x2"},"y2":{"field":"y2"}}},
   {"data":{"values":[{"x":-4.64,"y":52.1}]},"mark":{"type":"point","shape":"diamond","size":170,"filled":true,"fill":"#4F81BD","stroke":"#C00000","strokeWidth":2,"opacity":1}},
   {"data":{"values":[{"x":-4.22,"y":63.9,"t":"Hysteretic Curve"},{"x":-4.22,"y":52.1,"t":"Envelope Curve"}]},"mark":{"type":"text","fontSize":26,"align":"left"},"encoding":{"text":{"field":"t"}}}
  ]
 },
 {
  "width":839,"height":514,
  "title":{"text":"b","dx":-11.5,"offset":23},
  "encoding":{
   "x":{"field":"x","type":"quantitative","scale":{"domain":[-6.072,6],"nice":false,"zero":false},"axis":{"values":[-6,-5,-4,-3,-2,-1,0,1,2,3,4,5,6],"labelFontSize":24,"labelPadding":24,"title":"Drift (%)","titleFontSize":25,"titleX":409,"titleY":72}},
   "y":{"field":"y","type":"quantitative","scale":{"domain":[-80,80],"nice":false,"zero":false},"axis":{"values":[-80,-60,-40,-20,0,20,40,60,80],"labelFontSize":24,"labelPadding":19,"title":"Load (kN)","titleFontSize":26,"titleX":-56,"titleY":267}}
  },
  "layer":[
   {"data":{"name":"zh"},"mark":{"type":"rule","color":"#000","strokeWidth":3},"encoding":{"x2":{"field":"x2"},"y2":{"field":"y2"}}},
   {"data":{"name":"zv8"},"mark":{"type":"rule","color":"#A6A6A6","strokeWidth":2.5},"encoding":{"x2":{"field":"x2"},"y2":{"field":"y2"}}},
   {"data":{"name":"hb"},"mark":{"type":"line","color":"#0070C0","strokeWidth":3,"interpolate":"catmull-rom"},"encoding":{"order":{"value":null}}},
   {"data":{"name":"f8"},"mark":{"type":"rule","color":"#000","strokeWidth":4,"strokeCap":"square"},"encoding":{"x2":{"field":"x2"},"y2":{"field":"y2"}}},
   {"data":{"name":"capT"},"mark":{"type":"rule","color":"#7030A0","strokeWidth":5,"strokeDash":[20,9]},"encoding":{"x2":{"field":"x2"},"y2":{"field":"y2"}}},
   {"data":{"name":"capB"},"mark":{"type":"rule","color":"#8064A2","strokeWidth":5,"strokeDash":[20,9]},"encoding":{"x2":{"field":"x2"},"y2":{"field":"y2"}}},
   {"data":{"name":"eb"},"mark":{"type":"line","color":"#C0504D","strokeWidth":2}},
   {"data":{"name":"eb"},"mark":{"type":"point","shape":"square","size":144,"filled":true,"color":"#C0504D","opacity":1}},
   {"data":{"values":[{"x":1.61,"y":59.1,"x2":1.33,"y2":42},{"x":-1.99,"y":-63.5,"x2":-1.52,"y2":-47}]},"mark":{"type":"rule","color":"#000","strokeWidth":2},"encoding":{"x2":{"field":"x2"},"y2":{"field":"y2"}}},
   {"data":{"values":[{"x":1.33,"y":42}]},"mark":{"type":"point","shape":"triangle-up","size":130,"filled":true,"color":"#000","opacity":1,"angle":199.5}},
   {"data":{"values":[{"x":-1.52,"y":-47}]},"mark":{"type":"point","shape":"triangle-up","size":130,"filled":true,"color":"#000","opacity":1,"angle":31.9}},
   {"data":{"values":[{"x":3.21,"y":64.1,"t":"Flextural Capacity of the beam"},{"x":-3.61,"y":-67.9,"t":"Flextural Capacity of the beam"}]},"mark":{"type":"text","fontSize":22},"encoding":{"text":{"field":"t"}}},
   {"data":{"values":[{"x":0.75,"y":43,"t":"37.83"},{"x":-0.89,"y":-51,"t":"44.55"}]},"mark":{"type":"text","fontSize":25},"encoding":{"text":{"field":"t"}}},
   {"data":{"values":[{"x":-5.14,"x2":-4.36,"y":64.1,"y2":64.1}]},"mark":{"type":"rule","color":"#C0504D","strokeWidth":2},"encoding":{"x2":{"field":"x2"},"y2":{"field":"y2"}}},
   {"data":{"values":[{"x":-4.75,"y":64.1}]},"mark":{"type":"point","shape":"square","size":144,"filled":true,"color":"#C0504D","opacity":1}},
   {"data":{"values":[{"x":-5.14,"x2":-4.36,"y":49.5,"y2":49.5}]},"mark":{"type":"rule","color":"#0070C0","strokeWidth":3},"encoding":{"x2":{"field":"x2"},"y2":{"field":"y2"}}},
   {"data":{"values":[{"x":-4.27,"y":64.1,"t":"Envelope Curve"},{"x":-4.27,"y":49.5,"t":"Hysteretic Curve"}]},"mark":{"type":"text","fontSize":27,"align":"left"},"encoding":{"text":{"field":"t"}}}
  ]
 },
 {
  "width":855,"height":519,
  "title":{"text":"c","dx":-5.5,"offset":12.5},
  "encoding":{
   "x":{"field":"x","type":"quantitative","scale":{"domain":[-6,6],"nice":false,"zero":false},"axis":{"values":[-6,-5,-4,-3,-2,-1,0,1,2,3,4,5,6],"labelFontSize":21,"labelPadding":22,"title":"Drift (%)","titleFontSize":21,"titleX":428,"titleY":66}},
   "y":{"field":"y","type":"quantitative","scale":{"domain":[-80,60],"nice":false,"zero":false},"axis":{"values":[-80,-60,-40,-20,0,20,40,60],"labelFontSize":21,"labelPadding":19,"title":"Load (kN)","titleFontSize":22,"titleX":-70.5,"titleY":276}}
  },
  "layer":[
   {"data":{"name":"z6"},"mark":{"type":"rule","color":"#000","strokeWidth":4},"encoding":{"x2":{"field":"x2"},"y2":{"field":"y2"}}},
   {"data":{"name":"hc"},"mark":{"type":"line","color":"#0070C0","strokeWidth":1,"interpolate":"catmull-rom"},"encoding":{"order":{"value":null}}},
   {"data":{"name":"f6"},"mark":{"type":"rule","color":"#000","strokeWidth":4,"strokeCap":"square"},"encoding":{"x2":{"field":"x2"},"y2":{"field":"y2"}}},
   {"data":{"name":"capT"},"mark":{"type":"rule","color":"#7030A0","strokeWidth":5,"strokeDash":[20,9]},"encoding":{"x2":{"field":"x2"},"y2":{"field":"y2"}}},
   {"data":{"name":"capB"},"mark":{"type":"rule","color":"#7030A0","strokeWidth":5,"strokeDash":[20,9]},"encoding":{"x2":{"field":"x2"},"y2":{"field":"y2"}}},
   {"data":{"name":"ec"},"mark":{"type":"line","color":"#C0504D","strokeWidth":6}},
   {"data":{"name":"ec"},"mark":{"type":"point","shape":"square","size":270,"filled":true,"color":"#C0504D","opacity":1}},
   {"data":{"values":[{"x":1.85,"y":50,"x2":1.32,"y2":40.9},{"x":-1.9,"y":-67.8,"x2":-1.31,"y2":-47.7}]},"mark":{"type":"rule","color":"#000","strokeWidth":2},"encoding":{"x2":{"field":"x2"},"y2":{"field":"y2"}}},
   {"data":{"values":[{"x":1.32,"y":40.9}]},"mark":{"type":"point","shape":"triangle-up","size":130,"filled":true,"color":"#000","opacity":1,"angle":228}},
   {"data":{"values":[{"x":-1.31,"y":-47.7}]},"mark":{"type":"point","shape":"triangle-up","size":130,"filled":true,"color":"#000","opacity":1,"angle":29.4}},
   {"data":{"values":[{"x":2.74,"y":53.5,"t":"Flexural capacity of the beam"},{"x":-3.64,"y":-71.9,"t":"Flexural capacity of the beam"}]},"mark":{"type":"text","fontSize":23},"encoding":{"text":{"field":"t"}}},
   {"data":{"values":[{"x":0.6,"y":42.2,"t":"37.83"},{"x":-0.71,"y":-49,"t":"44.55"}]},"mark":{"type":"text","fontSize":24},"encoding":{"text":{"field":"t"}}},
   {"data":{"values":[{"x":-5.27,"x2":-4.6,"y":53.5,"y2":53.5}]},"mark":{"type":"rule","color":"#C0504D","strokeWidth":6},"encoding":{"x2":{"field":"x2"},"y2":{"field":"y2"}}},
   {"data":{"values":[{"x":-4.92,"y":53.5}]},"mark":{"type":"point","shape":"square","size":270,"filled":true,"color":"#C0504D","opacity":1}},
   {"data":{"values":[{"x":-5.24,"x2":-4.61,"y":42.2,"y2":42.2}]},"mark":{"type":"rule","color":"#0070C0","strokeWidth":1},"encoding":{"x2":{"field":"x2"},"y2":{"field":"y2"}}},
   {"data":{"values":[{"x":-4.54,"y":53.5,"t":"Envelope Curve"},{"x":-4.54,"y":42.2,"t":"Hysteretic Curve"}]},"mark":{"type":"text","fontSize":23,"align":"left"},"encoding":{"text":{"field":"t"}}}
  ]
 },
 {
  "width":872,"height":529,
  "title":{"text":"d","dx":-30,"offset":4},
  "encoding":{
   "x":{"field":"x","type":"quantitative","scale":{"domain":[-6,6],"nice":false,"zero":false},"axis":{"values":[-6,-5,-4,-3,-2,-1,0,1,2,3,4,5,6],"labelFontSize":22,"labelPadding":21,"title":"Drift (%)","titleFontSize":21,"titleX":425,"titleY":68}},
   "y":{"field":"y","type":"quantitative","scale":{"domain":[-80,83.71],"nice":false,"zero":false},"axis":{"values":[-80,-60,-40,-20,0,20,40,60,80],"labelFontSize":22,"labelPadding":20,"title":"Load (kN)","titleFontSize":22,"titleX":-75,"titleY":262}}
  },
  "layer":[
   {"data":{"name":"hd"},"mark":{"type":"line","color":"#0070C0","strokeWidth":3,"interpolate":"catmull-rom"},"encoding":{"order":{"value":null}}},
   {"data":{"values":[{"x":0.33,"y":46,"t":"37.83"},{"x":-0.98,"y":-49.4,"t":"44.55"}]},"mark":{"type":"text","fontSize":23},"encoding":{"text":{"field":"t"}}},
   {"data":{"name":"z8"},"mark":{"type":"rule","color":"#000","strokeWidth":3.5},"encoding":{"x2":{"field":"x2"},"y2":{"field":"y2"}}},
   {"data":{"name":"f8"},"mark":{"type":"rule","color":"#000","strokeWidth":4,"strokeCap":"square"},"encoding":{"x2":{"field":"x2"},"y2":{"field":"y2"}}},
   {"data":{"name":"capT"},"mark":{"type":"rule","color":"#7030A0","strokeWidth":5,"strokeDash":[20,9]},"encoding":{"x2":{"field":"x2"},"y2":{"field":"y2"}}},
   {"data":{"name":"capB"},"mark":{"type":"rule","color":"#8064A2","strokeWidth":5,"strokeDash":[20,9]},"encoding":{"x2":{"field":"x2"},"y2":{"field":"y2"}}},
   {"data":{"name":"ed"},"mark":{"type":"line","color":"#FF0000","strokeWidth":2}},
   {"data":{"name":"ed"},"mark":{"type":"point","shape":"square","size":100,"filled":true,"fill":"#7030A0","stroke":"#FF0000","strokeWidth":2.5,"opacity":1}},
   {"data":{"values":[{"x":1.35,"y":56.5,"x2":1.15,"y2":41.6},{"x":-1.98,"y":-58.3,"x2":-1.49,"y2":-48.7}]},"mark":{"type":"rule","color":"#000","strokeWidth":2},"encoding":{"x2":{"field":"x2"},"y2":{"field":"y2"}}},
   {"data":{"values":[{"x":1.15,"y":41.6}]},"mark":{"type":"point","shape":"triangle-up","size":130,"filled":true,"color":"#000","opacity":1,"angle":196.5}},
   {"data":{"values":[{"x":-1.49,"y":-48.7}]},"mark":{"type":"point","shape":"triangle-up","size":130,"filled":true,"color":"#000","opacity":1,"angle":48.9}},
   {"data":{"values":[{"x":3.28,"y":64.5,"t":"Flextural Capacity of the beam"},{"x":-3.62,"y":-64.9,"t":"Flextural Capacity of the beam"}]},"mark":{"type":"text","fontSize":23},"encoding":{"text":{"field":"t"}}},
   {"data":{"values":[{"x":-4.53,"x2":-3.91,"y":68.6,"y2":68.6}]},"mark":{"type":"rule","color":"#FF0000","strokeWidth":2},"encoding":{"x2":{"field":"x2"},"y2":{"field":"y2"}}},
   {"data":{"values":[{"x":-4.21,"y":68.6}]},"mark":{"type":"point","shape":"square","size":100,"filled":true,"fill":"#7030A0","stroke":"#FF0000","strokeWidth":2.5,"opacity":1}},
   {"data":{"values":[{"x":-4.53,"x2":-3.91,"y":57.1,"y2":57.1}]},"mark":{"type":"rule","color":"#0070C0","strokeWidth":3},"encoding":{"x2":{"field":"x2"},"y2":{"field":"y2"}}},
   {"data":{"values":[{"x":-3.84,"y":68.6,"t":"Envelope Curve"},{"x":-3.84,"y":57.1,"t":"Hystertic Curve"}]},"mark":{"type":"text","fontSize":23,"align":"left"},"encoding":{"text":{"field":"t"}}}
  ]
 }
]
}
